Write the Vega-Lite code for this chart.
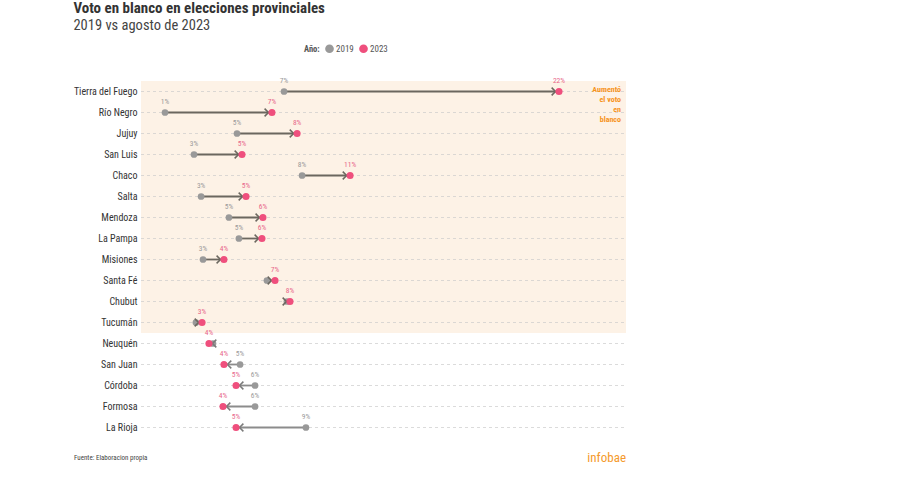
{
  "$schema": "https://vega.github.io/schema/vega-lite/v6.json",
  "width": 485,
  "height": 357,
  "padding": {"left": 73, "top": 0, "right": 5, "bottom": 5},
  "autosize": {"type": "pad"},
  "title": {
    "text": "Voto en blanco en elecciones provinciales",
    "subtitle": "2019 vs agosto de 2023",
    "anchor": "start",
    "frame": "bounds",
    "fontSize": 15,
    "fontWeight": "bold",
    "color": "#333333",
    "subtitleFontSize": 14.5,
    "subtitleColor": "#444444",
    "subtitlePadding": 3,
    "offset": 12
  },
  "config": {
    "font": "Roboto Condensed, Liberation Sans Narrow, DejaVu Sans Condensed, Roboto, sans-serif",
    "view": {"stroke": null}
  },
  "data": {
    "values": [
      {"provincia": "Tierra del Fuego", "v2019": 0.0745, "v2023": 0.2177},
      {"provincia": "Río Negro", "v2019": 0.0125, "v2023": 0.0682},
      {"provincia": "Jujuy", "v2019": 0.05, "v2023": 0.0813},
      {"provincia": "San Luis", "v2019": 0.0276, "v2023": 0.0526},
      {"provincia": "Chaco", "v2019": 0.0839, "v2023": 0.1089},
      {"provincia": "Salta", "v2019": 0.0313, "v2023": 0.0547},
      {"provincia": "Mendoza", "v2019": 0.0458, "v2023": 0.0635},
      {"provincia": "La Pampa", "v2019": 0.051, "v2023": 0.063},
      {"provincia": "Misiones", "v2019": 0.0323, "v2023": 0.0432},
      {"provincia": "Santa Fé", "v2019": 0.0656, "v2023": 0.0698},
      {"provincia": "Chubut", "v2019": 0.076, "v2023": 0.0776},
      {"provincia": "Tucumán", "v2019": 0.0286, "v2023": 0.0318},
      {"provincia": "Neuquén", "v2019": 0.0375, "v2023": 0.0354},
      {"provincia": "San Juan", "v2019": 0.0516, "v2023": 0.0432},
      {"provincia": "Córdoba", "v2019": 0.0594, "v2023": 0.0495},
      {"provincia": "Formosa", "v2019": 0.0594, "v2023": 0.0427},
      {"provincia": "La Rioja", "v2019": 0.0859, "v2023": 0.0495}
    ]
  },
  "encoding": {
    "y": {
      "field": "provincia",
      "type": "nominal",
      "sort": null,
      "scale": {"paddingInner": 0, "paddingOuter": 0},
      "axis": {
        "title": null,
        "domain": false,
        "ticks": false,
        "grid": false,
        "labelFontSize": 10,
        "labelColor": "#333333",
        "labelPadding": 4,
        "minExtent": 67,
        "maxExtent": 67
      }
    }
  },
  "layer": [
    {
      "mark": {"type": "rect"},
      "encoding": {
        "x": {"datum": 0, "type": "quantitative", "scale": {"domain": [0, 0.2526], "nice": false, "zero": false}, "axis": null},
        "x2": {"datum": 0.2526},
        "fill": {"condition": {"test": "datum.v2023 > datum.v2019", "value": "#fdf2e6"}, "value": "transparent"}
      }
    },
    {
      "mark": {"type": "rule", "strokeDash": [3, 3], "color": "#c9c9c9", "strokeWidth": 0.8, "opacity": 0.85},
      "encoding": {
        "x": {"datum": 0, "type": "quantitative"},
        "x2": {"datum": 0.2526}
      }
    },
    {
      "mark": {"type": "rule", "strokeWidth": 1.8},
      "encoding": {
        "x": {"field": "v2019", "type": "quantitative"},
        "x2": {"field": "v2023"},
        "stroke": {"condition": {"test": "datum.v2023 > datum.v2019", "value": "#6b675f"}, "value": "#8c8c8c"}
      }
    },
    {
      "mark": {"type": "point", "filled": true, "size": 45, "opacity": 1},
      "encoding": {
        "x": {"field": "v2019", "type": "quantitative"},
        "color": {
          "datum": "2019",
          "type": "nominal",
          "scale": {"domain": ["2019", "2023"], "range": ["#999999", "#ef4f7d"]},
          "legend": {
            "title": "Año:",
            "orient": "none",
            "legendX": 163,
            "legendY": -37,
            "direction": "horizontal",
            "titleOrient": "left",
            "titleFontSize": 8.5,
            "titleFontWeight": "bold",
            "titleColor": "#555555",
            "labelFontSize": 9,
            "labelColor": "#555555",
            "symbolType": "circle",
            "symbolSize": 75,
            "symbolStrokeWidth": 0,
            "columnPadding": 5,
            "labelOffset": 2,
            "titlePadding": 5
          }
        }
      }
    },
    {
      "mark": {"type": "point", "filled": false, "shape": "M-2.1,-1.1L-1,0L-2.1,1.1", "size": 49, "strokeWidth": 1.5, "opacity": 1},
      "encoding": {
        "x": {"field": "v2023", "type": "quantitative"},
        "stroke": {"condition": {"test": "datum.v2023 > datum.v2019", "value": "#6b675f"}, "value": "#7a7a7a"},
        "angle": {"condition": {"test": "datum.v2023 < datum.v2019", "value": 180}, "value": 0}
      }
    },
    {
      "mark": {"type": "point", "filled": true, "size": 50, "opacity": 1},
      "encoding": {
        "x": {"field": "v2023", "type": "quantitative"},
        "color": {"datum": "2023", "type": "nominal"}
      }
    },
    {
      "transform": [{"filter": "abs(datum.v2023 - datum.v2019) > 0.005"}],
      "mark": {"type": "text", "dy": -11, "fontSize": 7.5, "color": "#9a9a9a"},
      "encoding": {
        "x": {"field": "v2019", "type": "quantitative"},
        "text": {"field": "v2019", "type": "quantitative", "format": ".0%"}
      }
    },
    {
      "mark": {"type": "text", "dy": -11, "fontSize": 7.5, "color": "#e8678a"},
      "encoding": {
        "x": {"field": "v2023", "type": "quantitative"},
        "text": {"field": "v2023", "type": "quantitative", "format": ".0%"}
      }
    },
    {
      "data": {"values": [{"nota": "Aumentó el voto en blanco"}]},
      "mark": {"type": "text", "text": ["Aumentó", "el voto", "en", "blanco"], "align": "right", "baseline": "alphabetic", "fontSize": 8, "fontWeight": "bold", "color": "#f7941d", "lineHeight": 10, "dy": 0},
      "encoding": {
        "x": {"datum": 0.25, "type": "quantitative"},
        "y": {"datum": "Tierra del Fuego", "type": "nominal"}
      }
    },
    {
      "data": {"values": [{"fuente": "Fuente: Elaboracion propia"}]},
      "mark": {"type": "text", "align": "left", "baseline": "middle", "fontSize": 7, "color": "#444444", "dy": 30},
      "encoding": {
        "x": {"datum": -0.0349, "type": "quantitative"},
        "y": {"datum": "La Rioja", "type": "nominal"},
        "text": {"field": "fuente", "type": "nominal"}
      }
    },
    {
      "data": {"values": [{"marca": "infobae"}]},
      "mark": {"type": "text", "align": "right", "baseline": "middle", "fontSize": 13, "fontWeight": "normal", "color": "#f59a2c", "dy": 30},
      "encoding": {
        "x": {"datum": 0.2526, "type": "quantitative"},
        "y": {"datum": "La Rioja", "type": "nominal"},
        "text": {"field": "marca", "type": "nominal"}
      }
    }
  ]
}
